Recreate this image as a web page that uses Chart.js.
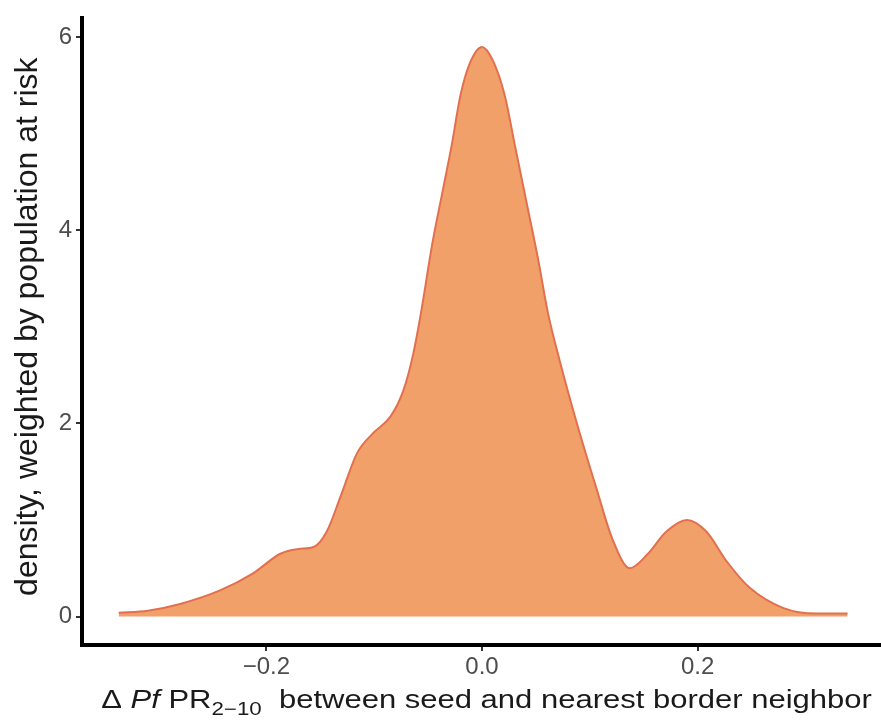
<!DOCTYPE html>
<html lang="en">
<head>
  <meta charset="UTF-8">
  <title>Density of seed vs border neighbour PfPR difference</title>
  <script src="https://cdn.jsdelivr.net/npm/chart.js"></script>
  <style>
    body {
      margin: 0;
      background: #ffffff;
      overflow: hidden;
    }
    .chart-container {
      position: relative;
      width: 881px;
      height: 724px;
    }
  </style>
</head>
<body>
  <div class="chart-container">
    <canvas id="densityChart"></canvas>
  </div>

  <script>
    // difference in PfPR between seed and nearest border neighbour
    const deltaPfpr = [
      -0.337, -0.31, -0.28, -0.243, -0.212, -0.187, -0.17, -0.156, -0.144, -0.131,
      -0.116, -0.101, -0.085, -0.073, -0.064, -0.057, -0.046, -0.037, -0.028, -0.020,
      -0.011, 0.0, 0.010, 0.021, 0.031, 0.042, 0.052, 0.061, 0.072, 0.088,
      0.106, 0.121, 0.137, 0.153, 0.171, 0.190, 0.208, 0.227, 0.248, 0.279, 0.310, 0.339
    ];
    // population-weighted density at each point
    const density = [
      0.04, 0.06, 0.13, 0.27, 0.45, 0.65, 0.70, 0.72, 0.88, 1.25,
      1.69, 1.90, 2.07, 2.34, 2.71, 3.12, 3.87, 4.38, 4.89, 5.40,
      5.74, 5.90, 5.76, 5.40, 4.85, 4.25, 3.70, 3.15, 2.65, 2.00,
      1.33, 0.80, 0.50, 0.64, 0.88, 1.00, 0.88, 0.57, 0.30, 0.09, 0.03, 0.03
    ];
    const xTicks = [-0.2, 0.0, 0.2];
    const xTickLabels = ['\u22120.2', '0.0', '0.2'];
    const yTicks = [0, 2, 4, 6];
    const yTickLabels = ['0', '2', '4', '6'];

    const tickFont = { family: 'Liberation Sans, Arial, sans-serif', size: 24 };
    const tickColor = '#4d4d4d';

    // axis titles: x title has italic "Pf" and a subscript, so it is drawn by hand
    const axisTitles = {
      id: 'axisTitles',
      afterDraw(chart) {
        const ctx = chart.ctx;
        const area = chart.chartArea;
        ctx.save();
        ctx.fillStyle = '#1a1a1a';
        ctx.textBaseline = 'alphabetic';

        const stretch = 1.24;
        const parts = [
          { text: '\u0394 ', font: '25px "Liberation Sans", Arial, sans-serif', dy: 0 },
          { text: 'Pf', font: 'italic 25px "Liberation Sans", Arial, sans-serif', dy: 0 },
          { text: ' PR', font: '25px "Liberation Sans", Arial, sans-serif', dy: 0 },
          { text: '2\u221210', font: '18px "Liberation Sans", Arial, sans-serif', dy: 7 },
          { text: '  between seed and nearest border neighbor', font: '25px "Liberation Sans", Arial, sans-serif', dy: 0 }
        ];
        let total = 0;
        parts.forEach(p => { ctx.font = p.font; p.w = ctx.measureText(p.text).width; total += p.w; });
        const cx = (area.left + area.right) / 2 + 5;
        ctx.translate(cx - total * stretch / 2, 708);
        ctx.scale(stretch, 1);
        let x = 0;
        parts.forEach(p => {
          ctx.font = p.font;
          ctx.fillText(p.text, x, p.dy);
          x += p.w;
        });
        ctx.restore();

        ctx.save();
        ctx.fillStyle = '#1a1a1a';
        ctx.font = '32px "Liberation Sans", Arial, sans-serif';
        ctx.textAlign = 'center';
        ctx.textBaseline = 'middle';
        ctx.translate(28, (area.top + area.bottom) / 2 - 5);
        ctx.rotate(-Math.PI / 2);
        ctx.fillText('density, weighted by population at risk', 0, 0);
        ctx.restore();
      }
    };

    const ctx = document.getElementById('densityChart').getContext('2d');
    const chart = new Chart(ctx, {
      type: 'line',
      data: {
        datasets: [{
          data: deltaPfpr.map((x, i) => ({ x: x, y: density[i] })),
          borderColor: '#e2704f',
          borderWidth: 2,
          backgroundColor: '#f1a06a',
          fill: 'origin',
          pointRadius: 0,
          cubicInterpolationMode: 'monotone'
        }]
      },
      options: {
        responsive: true,
        maintainAspectRatio: false,
        animation: false,
        layout: { padding: { top: 9, right: 0, left: 0, bottom: 0 } },
        plugins: {
          legend: { display: false },
          tooltip: { enabled: false }
        },
        scales: {
          x: {
            type: 'linear',
            min: -0.371,
            max: 0.37,
            afterBuildTicks: scale => { scale.ticks = xTicks.map(v => ({ value: v })); },
            afterFit: scale => { scale.height = 79; },
            ticks: {
              font: tickFont,
              color: tickColor,
              padding: 2,
              maxRotation: 0,
              autoSkip: false,
              callback: (v, i) => xTickLabels[i]
            },
            grid: {
              drawOnChartArea: false,
              drawTicks: true,
              tickLength: 6,
              color: '#333333',
              lineWidth: 2
            },
            border: { display: true, color: '#000000', width: 4 }
          },
          y: {
            min: -0.295,
            max: 6.195,
            afterBuildTicks: scale => { scale.ticks = yTicks.map(v => ({ value: v })); },
            afterFit: scale => { scale.width = 82; },
            ticks: {
              font: tickFont,
              color: tickColor,
              padding: 4,
              autoSkip: false,
              callback: (v, i) => yTickLabels[i]
            },
            grid: {
              drawOnChartArea: false,
              drawTicks: true,
              tickLength: 6,
              color: '#333333',
              lineWidth: 2
            },
            border: { display: true, color: '#000000', width: 4 }
          }
        }
      },
      plugins: [axisTitles]
    });
  </script>
</body>
</html>
